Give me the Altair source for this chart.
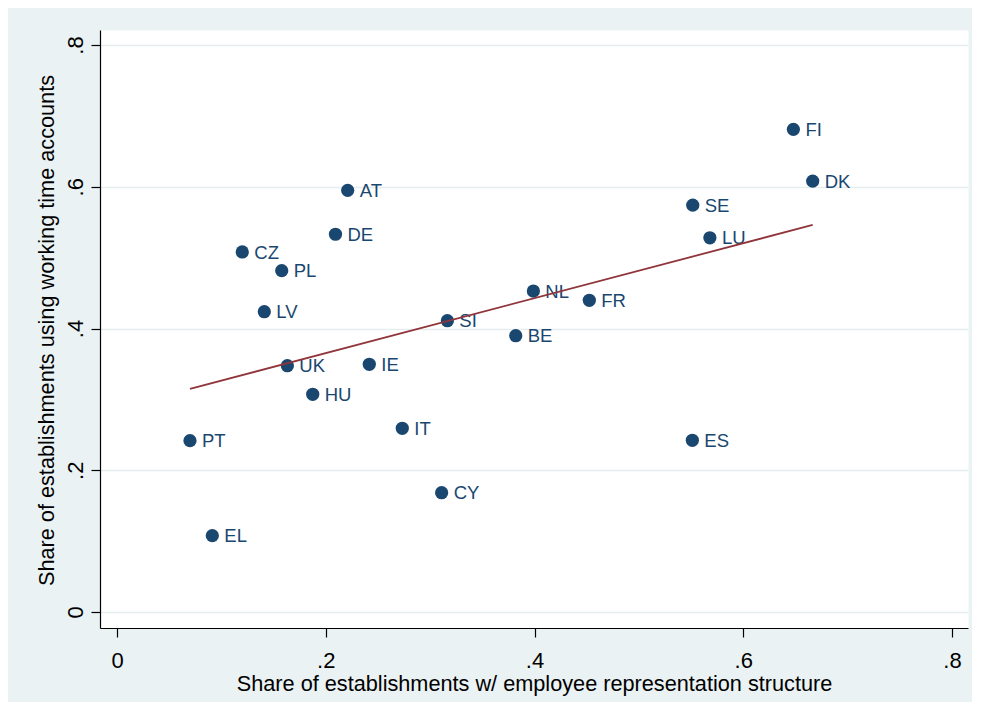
import altair as alt
import pandas as pd

countries = ["FI", "DK", "SE", "LU", "AT", "DE", "CZ", "PL", "LV", "NL", "FR",
             "SI", "BE", "UK", "IE", "HU", "IT", "PT", "ES", "CY", "EL"]
rep_share = [0.648, 0.6665, 0.5516, 0.568, 0.221, 0.2093, 0.120, 0.1578, 0.1411, 0.3989, 0.4525,
             0.3165, 0.382, 0.1632, 0.2417, 0.1875, 0.2733, 0.0699, 0.5512, 0.311, 0.0913]
wta_share = [0.681, 0.608, 0.574, 0.528, 0.595, 0.533, 0.508, 0.4816, 0.4237, 0.4529, 0.4398,
             0.411, 0.3898, 0.3475, 0.3495, 0.3072, 0.2592, 0.2417, 0.2423, 0.1683, 0.1077]
x_ticks = [0, 0.2, 0.4, 0.6, 0.8]
y_ticks = [0, 0.2, 0.4, 0.6, 0.8]

x_title = "Share of establishments w/ employee representation structure"
y_title = "Share of establishments using working time accounts"

df = pd.DataFrame({"country": countries, "rep": rep_share, "wta": wta_share})

FONT = "Liberation Sans"
NAVY = "#1A476F"
MAROON = "#90353B"
label_expr = "datum.value == 0 ? '0' : substring(format(datum.value, '.1f'), 1)"

x_scale = alt.Scale(domain=[-0.0163, 0.8153], nice=False, zero=False)
y_scale = alt.Scale(domain=[-0.0226, 0.8212], nice=False, zero=False)

x_axis = alt.Axis(
    values=x_ticks, labelExpr=label_expr, title=x_title, grid=False,
    tickSize=9, labelPadding=30, labelBaseline="alphabetic", labelAlign="center",
    labelFlush=False, labelFontSize=22, titleFontSize=21.7,
    titleY=62, titleBaseline="alphabetic",
)
y_axis = alt.Axis(
    values=y_ticks, labelExpr=label_expr, title=y_title, grid=True,
    gridColor="#E6EDF0", gridWidth=1.5,
    tickSize=9, labelPadding=9, labelAngle=270, labelAlign="center",
    labelBaseline="alphabetic", labelFlush=False, labelFontSize=22,
    titleFontSize=21.7, titleAngle=270, titleX=-46.5, titleY=300,
    titleAlign="center", titleBaseline="alphabetic",
)

base = alt.Chart(df)

points = base.mark_circle(size=175, color=NAVY, opacity=1).encode(
    x=alt.X("rep:Q", scale=x_scale, axis=x_axis),
    y=alt.Y("wta:Q", scale=y_scale, axis=y_axis),
)

labels = base.mark_text(
    align="left", baseline="alphabetic", dx=12, dy=6.6,
    fontSize=18.5, font=FONT, color=NAVY,
).encode(
    x=alt.X("rep:Q", scale=x_scale),
    y=alt.Y("wta:Q", scale=y_scale),
    text="country:N",
)

fit = base.transform_regression("rep", "wta").mark_line(
    color=MAROON, strokeWidth=1.8
).encode(
    x=alt.X("rep:Q", scale=x_scale),
    y=alt.Y("wta:Q", scale=y_scale),
)

chart = alt.layer(points, labels, fit).properties(
    width=868, height=598,
    autosize=alt.AutoSizeParams(type="none"),
    padding={"left": 92, "top": 22, "right": 4, "bottom": 74},
    background="#EAF2F3",
).configure_view(
    fill="white", stroke="transparent",
).configure_axis(
    labelFont=FONT, titleFont=FONT, labelColor="black", titleColor="black",
    titleFontWeight="normal", domainColor="black", tickColor="black",
    domainWidth=1.2, tickWidth=1.2,
)

chart.save("out.html", embed_options={"renderer": "svg", "actions": False})
